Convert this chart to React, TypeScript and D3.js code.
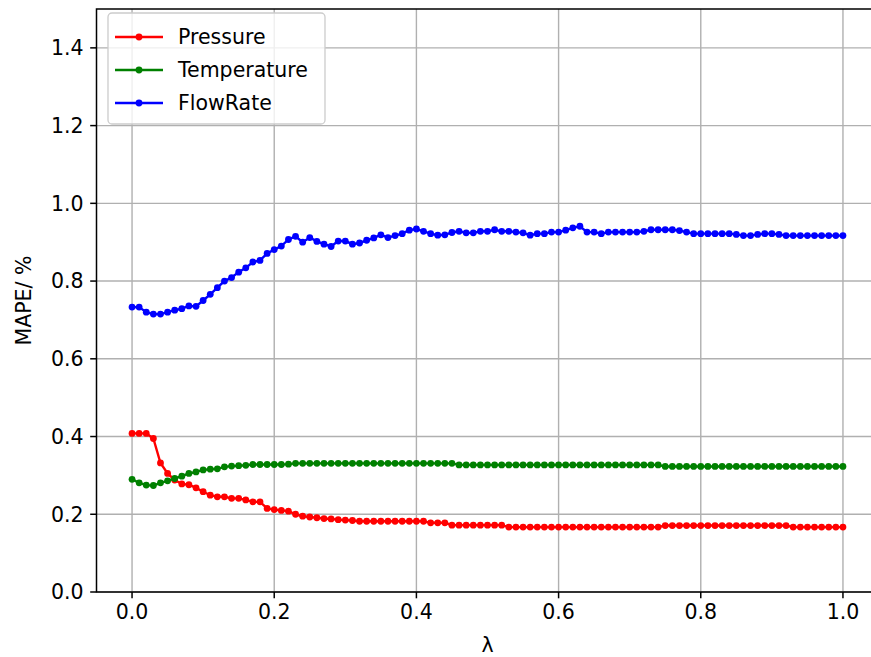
import React, { useEffect } from 'react';
import * as d3 from 'd3';

// lambda grid 0.00 .. 1.00, step 0.01
const lambdas = d3.range(0, 101).map(i => i / 100);

const pressure = [
  0.408, 0.408, 0.408, 0.395, 0.332, 0.305, 0.288, 0.278, 0.276, 0.268,
  0.258, 0.249, 0.245, 0.245, 0.241, 0.241, 0.237, 0.232, 0.232, 0.215,
  0.212, 0.210, 0.208, 0.200, 0.195, 0.193, 0.191, 0.189, 0.188, 0.186,
  0.185, 0.184, 0.182, 0.182, 0.182, 0.182, 0.182, 0.182, 0.182, 0.182,
  0.182, 0.182, 0.178, 0.178, 0.178, 0.172, 0.172, 0.172, 0.172, 0.172,
  0.172, 0.172, 0.172, 0.167, 0.167, 0.167, 0.167, 0.167, 0.167, 0.167,
  0.167, 0.167, 0.167, 0.167, 0.167, 0.167, 0.167, 0.167, 0.167, 0.167,
  0.167, 0.167, 0.167, 0.167, 0.167, 0.171, 0.171, 0.171, 0.171, 0.171,
  0.171, 0.171, 0.171, 0.171, 0.171, 0.171, 0.171, 0.171, 0.171, 0.171,
  0.171, 0.171, 0.171, 0.167, 0.167, 0.167, 0.167, 0.167, 0.167, 0.167,
  0.167,
];

const temperature = [
  0.290, 0.281, 0.275, 0.274, 0.281, 0.286, 0.292, 0.298, 0.305, 0.309,
  0.314, 0.316, 0.317, 0.322, 0.324, 0.325, 0.326, 0.328, 0.328, 0.328,
  0.328, 0.328, 0.329, 0.331, 0.331, 0.331, 0.331, 0.331, 0.331, 0.331,
  0.331, 0.331, 0.331, 0.331, 0.331, 0.331, 0.331, 0.331, 0.331, 0.331,
  0.331, 0.331, 0.331, 0.331, 0.331, 0.331, 0.327, 0.327, 0.327, 0.327,
  0.327, 0.327, 0.327, 0.327, 0.327, 0.327, 0.327, 0.327, 0.327, 0.327,
  0.327, 0.327, 0.327, 0.327, 0.327, 0.327, 0.327, 0.327, 0.327, 0.327,
  0.327, 0.327, 0.327, 0.327, 0.327, 0.323, 0.323, 0.323, 0.323, 0.323,
  0.323, 0.323, 0.323, 0.323, 0.323, 0.323, 0.323, 0.323, 0.323, 0.323,
  0.323, 0.323, 0.323, 0.323, 0.323, 0.323, 0.323, 0.323, 0.323, 0.323,
  0.323,
];

const flowRate = [
  0.733, 0.733, 0.720, 0.715, 0.715, 0.720, 0.725, 0.729, 0.736, 0.735,
  0.750, 0.766, 0.783, 0.800, 0.809, 0.823, 0.834, 0.849, 0.853, 0.871,
  0.881, 0.890, 0.907, 0.915, 0.900, 0.912, 0.902, 0.895, 0.889, 0.903,
  0.903, 0.895, 0.898, 0.905, 0.911, 0.919, 0.912, 0.917, 0.922, 0.931,
  0.934, 0.928, 0.922, 0.918, 0.919, 0.925, 0.928, 0.924, 0.924, 0.928,
  0.928, 0.932, 0.928, 0.928, 0.926, 0.924, 0.918, 0.922, 0.922, 0.926,
  0.926, 0.931, 0.937, 0.941, 0.926, 0.926, 0.922, 0.926, 0.926, 0.926,
  0.926, 0.926, 0.928, 0.932, 0.932, 0.932, 0.932, 0.930, 0.926, 0.922,
  0.922, 0.922, 0.922, 0.922, 0.922, 0.920, 0.917, 0.917, 0.920, 0.922,
  0.922, 0.920, 0.917, 0.917, 0.917, 0.917, 0.917, 0.917, 0.917, 0.917,
  0.917,
];

const seriesNames = ['Pressure', 'Temperature', 'FlowRate'];
const seriesColors = ['#ff0000', '#008000', '#0000ff'];
const seriesValues = [pressure, temperature, flowRate];

const xTicks = [0, 0.2, 0.4, 0.6, 0.8, 1.0];
const yTicks = [0, 0.2, 0.4, 0.6, 0.8, 1.0, 1.2, 1.4];

const width = 871;
const height = 657;
const font = 'DejaVu Sans, sans-serif';
const fs = 20.5;

const App = () => {
  useEffect(() => {
    document.body.style.margin = '0';
  }, []);

  const x = d3.scaleLinear().domain([-0.05, 1.05]).range([96.5, 878.5]);
  const y = d3.scaleLinear().domain([0, 1.5]).range([592, 9]);

  const line = d3.line<number>()
    .x((d, i) => x(lambdas[i]))
    .y(d => y(d));

  const [x0, x1] = x.range();
  const [yb, yt] = y.range();

  return (
    <svg width={width} height={height} style={{ display: 'block', background: '#fff' }}>
      {/* grid */}
      <g stroke="#b0b0b0" strokeWidth={1.4}>
        {xTicks.map(t => (
          <line key={'gx' + t} x1={x(t)} x2={x(t)} y1={yb} y2={yt} />
        ))}
        {yTicks.map(t => (
          <line key={'gy' + t} x1={x0} x2={x1} y1={y(t)} y2={y(t)} />
        ))}
      </g>

      {/* series */}
      {seriesValues.map((vals, si) => (
        <g key={seriesNames[si]}>
          <path d={line(vals) || ''} fill="none" stroke={seriesColors[si]} strokeWidth={2.4} />
          {vals.map((v, i) => (
            <circle key={i} cx={x(lambdas[i])} cy={y(v)} r={3.4} fill={seriesColors[si]} />
          ))}
        </g>
      ))}

      {/* spines */}
      <rect x={x0} y={yt} width={x1 - x0} height={yb - yt} fill="none" stroke="#000" strokeWidth={1.5} />

      {/* ticks and labels */}
      <g fontFamily={font} fontSize={fs} fill="#000">
        {xTicks.map(t => (
          <g key={'tx' + t}>
            <line x1={x(t)} x2={x(t)} y1={yb} y2={yb + 6.3} stroke="#000" strokeWidth={1.5} />
            <text x={x(t)} y={yb + 27} textAnchor="middle">{d3.format('.1f')(t)}</text>
          </g>
        ))}
        {yTicks.map(t => (
          <g key={'ty' + t}>
            <line x1={x0} x2={x0 - 6.3} y1={y(t)} y2={y(t)} stroke="#000" strokeWidth={1.5} />
            <text x={x0 - 13} y={y(t)} dy="0.36em" textAnchor="end">{d3.format('.1f')(t)}</text>
          </g>
        ))}
        <text x={(x0 + x1) / 2} y={652} textAnchor="middle">λ</text>
        <text transform={`translate(24,${(yb + yt) / 2}) rotate(-90)`} textAnchor="middle" dy="0.36em">MAPE/ %</text>
      </g>

      {/* legend */}
      <g fontFamily={font} fontSize={fs}>
        <rect x={108} y={13} width={217} height={111} rx={4} fill="#fff" fillOpacity={0.8} stroke="#cccccc" strokeWidth={1.3} />
        {seriesNames.map((name, i) => {
          const ly = 37 + i * 33;
          return (
            <g key={'lg' + name}>
              <line x1={115} x2={163} y1={ly} y2={ly} stroke={seriesColors[i]} strokeWidth={2.4} />
              <circle cx={139} cy={ly} r={3.4} fill={seriesColors[i]} />
              <text x={178} y={ly} dy="0.36em" fill="#000">{name}</text>
            </g>
          );
        })}
      </g>
    </svg>
  );
};

export default App;
